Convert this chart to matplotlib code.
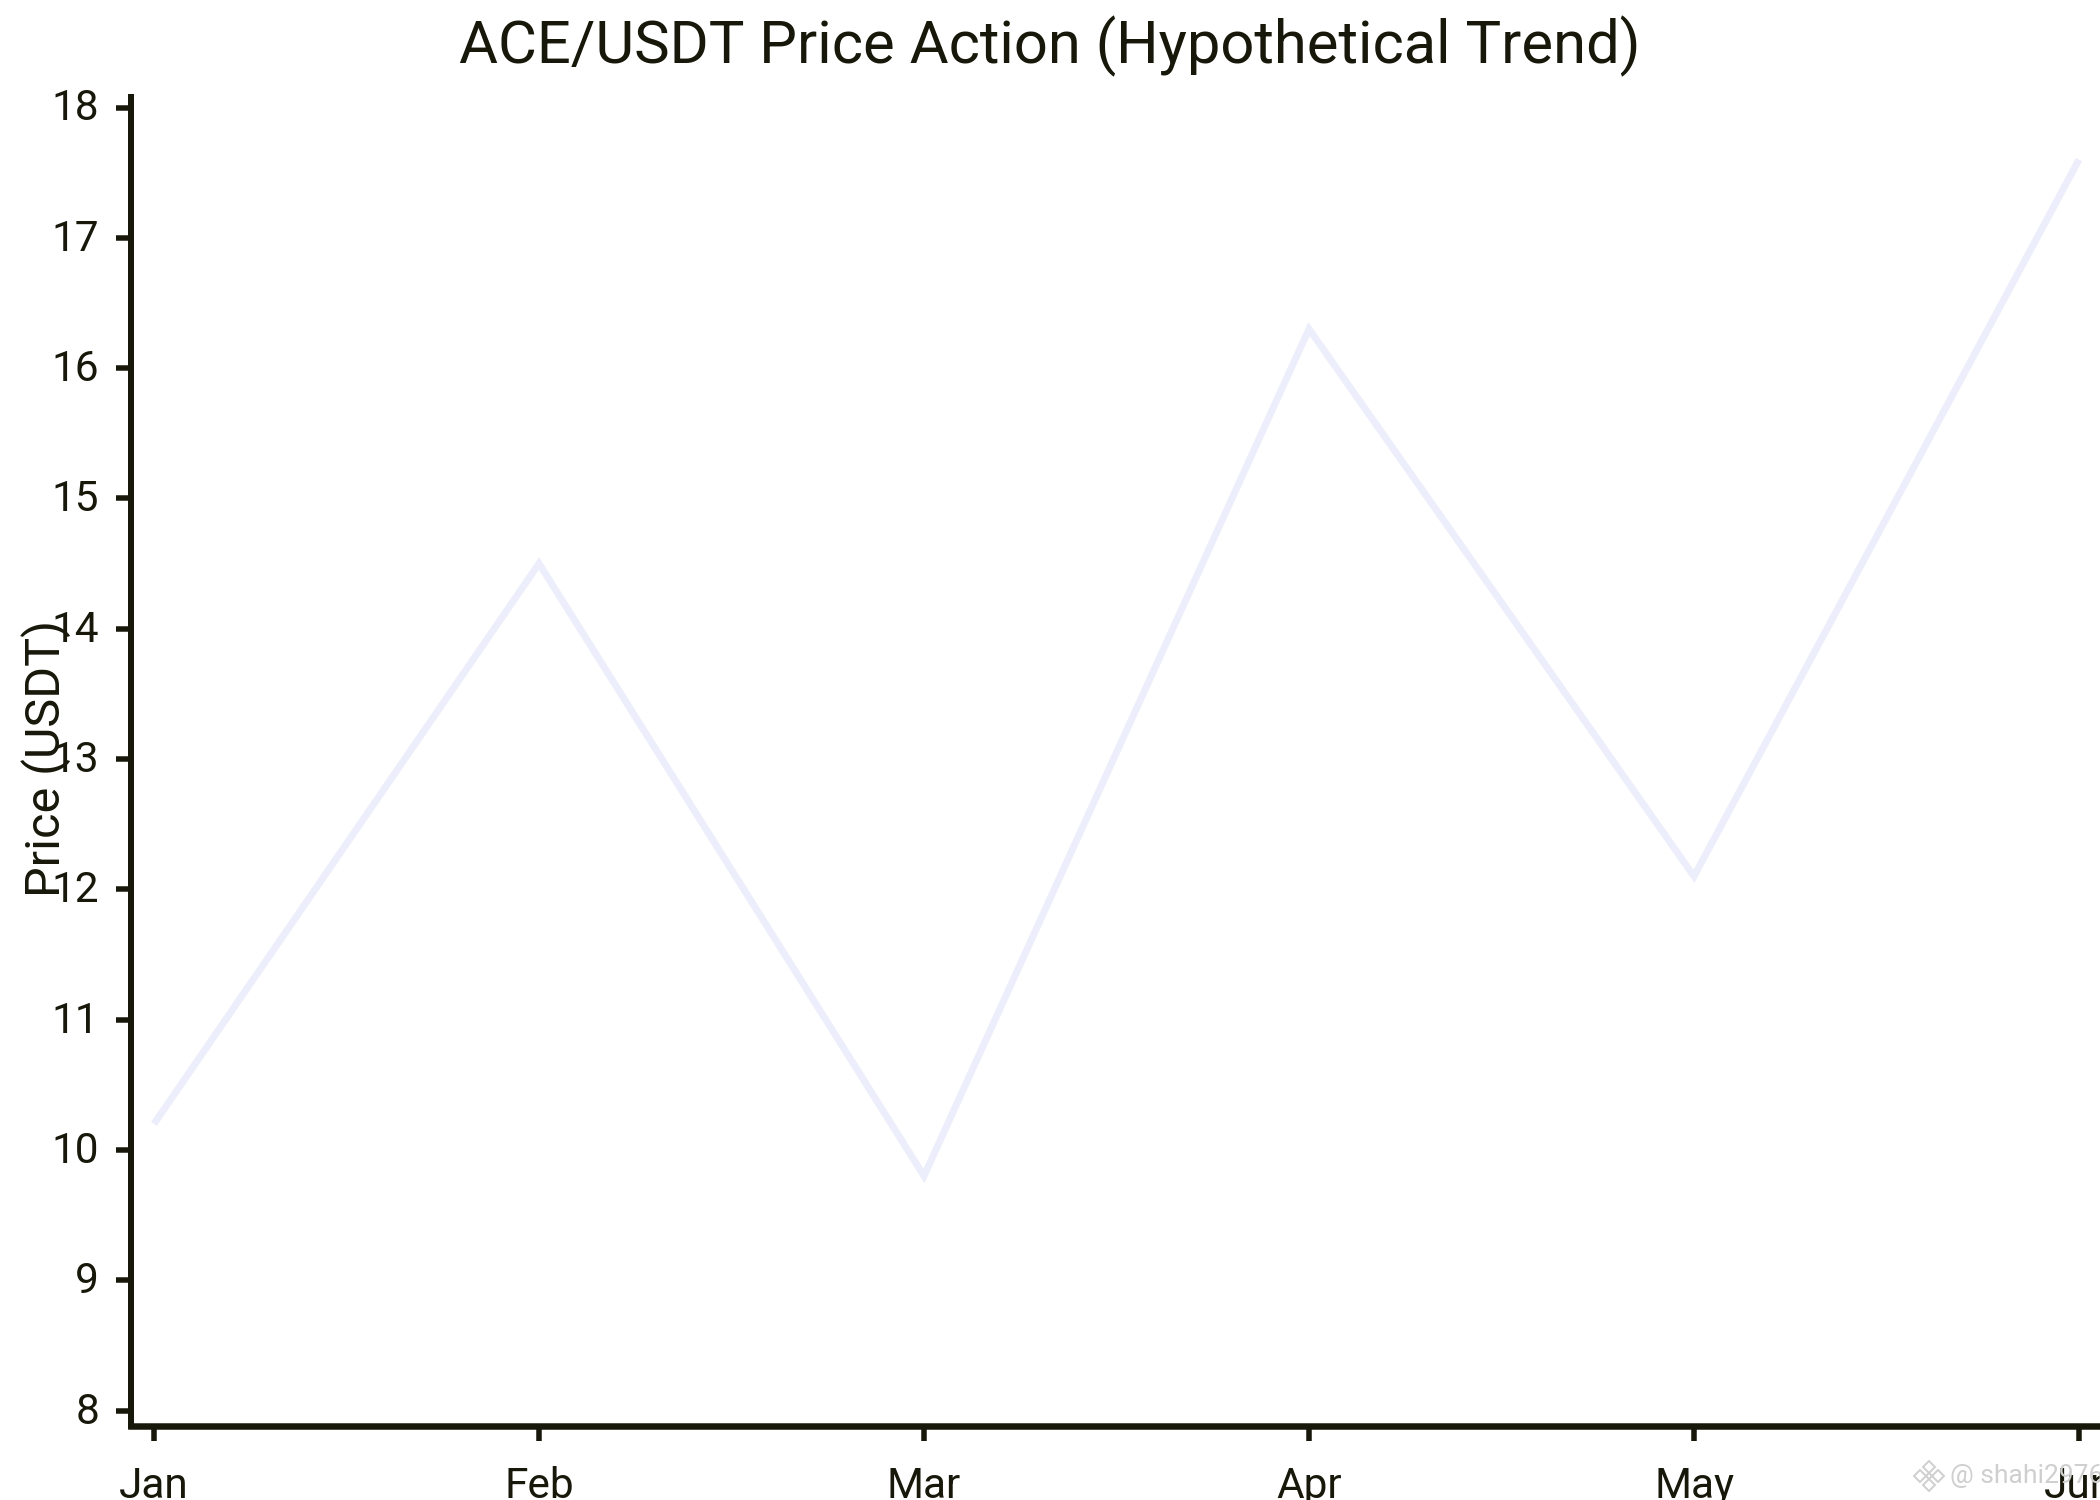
import matplotlib
matplotlib.use("Agg")
import matplotlib.pyplot as plt
from matplotlib.patches import Polygon
from matplotlib.transforms import ScaledTranslation

months = ["Jan", "Feb", "Mar", "Apr", "May", "Jun"]
prices = [10.2, 14.5, 9.8, 16.3, 12.1, 17.6]
y_ticks = [8, 9, 10, 11, 12, 13, 14, 15, 16, 17, 18]

W, H = 2100, 1500
DARK = "#17170a"
PT = 72 / 100

plt.rcParams["font.family"] = ["Roboto", "DejaVu Sans"]
fig = plt.figure(figsize=(W / 100, H / 100), dpi=100, facecolor="white")

L, R, T, B = 131, 2100, 97, 1426
ax = fig.add_axes([L / W, 1 - B / H, (R - L) / W, (B - T) / H])

x0, dx = 154, 385
y8, dy = 1410.5, 130.3
ax.set_xlim((L - x0) / dx, (R - x0) / dx)
ax.set_ylim(8 - (B - y8) / dy, 8 + (y8 - T) / dy)

ax.plot(range(len(months)), prices, color="#eceefb", lw=7 * PT, solid_joinstyle="miter",
        solid_capstyle="butt", clip_on=False)

for s in ("top", "right"):
    ax.spines[s].set_visible(False)
ax.spines["left"].set_linewidth(6 * PT)
ax.spines["bottom"].set_linewidth(6.5 * PT)
ax.spines["left"].set_color(DARK)
ax.spines["bottom"].set_color(DARK)

ax.set_xticks(range(len(months)), months)
ax.set_yticks(y_ticks)
ax.tick_params(axis="x", length=15 * PT, width=5.5 * PT, color=DARK, labelcolor=DARK,
               labelsize=30.5, pad=25 * PT)
ax.tick_params(axis="y", length=15 * PT, width=5.5 * PT, color=DARK, labelcolor=DARK,
               labelsize=30.5, pad=17 * PT)
shift_up = ScaledTranslation(0, 3 / 100, fig.dpi_scale_trans)
for t in ax.get_yticklabels():
    t.set_transform(t.get_transform() + shift_up)
for t in ax.get_xticklabels():
    t.set_clip_on(False)

ax.set_ylabel("Price (USDT)", fontsize=35, color=DARK)
ax.yaxis.set_label_coords((46 - L) / (R - L), (B - 758) / (B - T))
ax.yaxis.label.set_va("center")

fig.text(1050 / W, 1 - 46 / H, "ACE/USDT Price Action (Hypothetical Trend)", ha="center", va="center",
         fontsize=43, color=DARK)

# watermark
WM = "#cfcfcf"
fig.text(1950 / W, 1 - 1476 / H, "@ shahi2976", fontsize=19, color=WM, va="center", ha="left", zorder=5)
cx, cy = 1929, 1476
for ox, oy, r in [(0, -9, 6), (-9, 0, 6), (9, 0, 6), (0, 9, 6), (0, 0, 3)]:
    pts = [(cx + ox, cy + oy - r), (cx + ox + r, cy + oy), (cx + ox, cy + oy + r), (cx + ox - r, cy + oy)]
    fig.add_artist(Polygon([(px / W, 1 - py / H) for px, py in pts], closed=True, fill=False,
                           edgecolor=WM, lw=1.4, transform=fig.transFigure))

fig.savefig("out.png", dpi=100, facecolor="white")
